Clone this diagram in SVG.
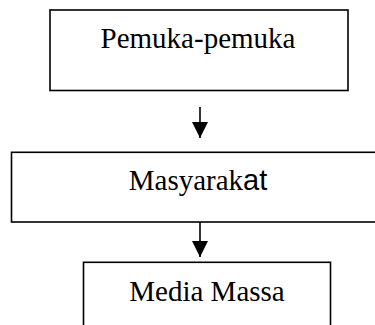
<svg xmlns="http://www.w3.org/2000/svg" width="375" height="325" viewBox="0 0 375 325">
<style>
.box{fill:#fff;stroke:#000;stroke-width:1.6}
.t{font-family:"Liberation Serif","Times New Roman",serif;font-size:29px;fill:#000;text-anchor:middle}
.s{font-family:"Liberation Sans",Arial,sans-serif}
.ln{stroke:#000;stroke-width:1.6;fill:none}
</style>
<defs>
<marker id="ah" markerUnits="userSpaceOnUse" markerWidth="16" markerHeight="16" viewBox="0 0 16 16" refX="16" refY="8" orient="auto">
<path d="M0,0 L16,8 L0,16 Z" fill="#000"/>
</marker>
</defs>
<rect width="375" height="325" fill="#fff"/>
<g id="node-pemuka">
<rect class="box" x="50" y="10" width="298" height="80.5"/>
<text class="t" x="198" y="48">Pemuka-pemuka</text>
</g>
<g id="node-masyarakat">
<rect class="box" x="11.5" y="152.3" width="380" height="69.7"/>
<text class="t" x="198" y="190">Masyarak<tspan class="s">at</tspan></text>
</g>
<g id="node-media">
<rect class="box" x="83.5" y="262.3" width="247" height="80" stroke-width="2"/>
<text class="t" x="207" y="300.5">Media Massa</text>
</g>
<g id="connectors">
<line class="ln" x1="200" y1="107" x2="200" y2="138" marker-end="url(#ah)"/>
<line class="ln" x1="200" y1="222" x2="200" y2="257" marker-end="url(#ah)"/>
</g>
</svg>
